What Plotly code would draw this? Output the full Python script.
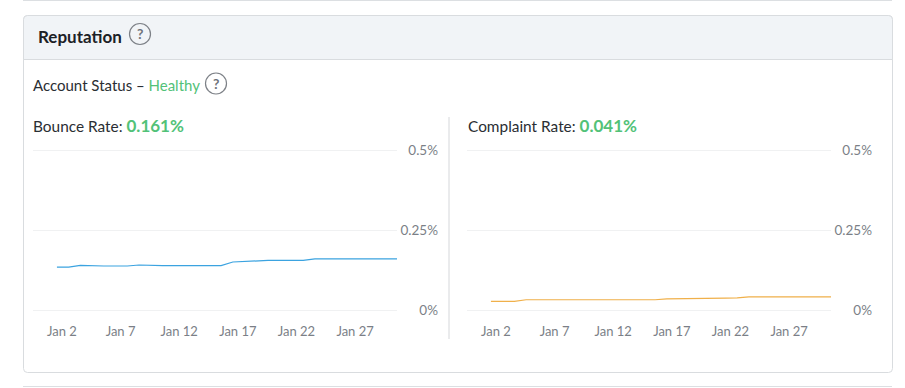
import plotly.graph_objects as go

W, H = 905, 388
days = [f"2023-01-{d:02d}" for d in range(2, 32)]
bounce = [.134, .134, .1396, .1375, .1375, .1375, .1375, .1406, .1385, .1385, .1385, .1385, .1385, .1385, .1385,
          .15, .152, .154, .155, .155, .155, .155, .160, .160, .160, .160, .159, .159, .159, .160]
complaint = [.027, .027, .027, .032, .032, .032, .032, .032, .032, .032, .032, .032, .032, .032, .032,
             .035, .035, .035, .035, .035, .037, .038, .041, .041, .041, .041, .041, .041, .041, .041]
tick_dates = ["2023-01-02", "2023-01-07", "2023-01-12", "2023-01-17", "2023-01-22", "2023-01-27"]
tick_labels = ["Jan 2", "Jan 7", "Jan 12", "Jan 17", "Jan 22", "Jan 27"]
y_ticks = [0, 0.25, 0.5]
y_labels = ["0%", "0.25%", "0.5%"]

FONT = "Lato"
GREEN = "#52c278"
DARK = "#2a2e33"
GREY = "#7b7f87"


def px(x):
    return x / W


def py(y):
    return 1 - y / H


fig = go.Figure()
fig.add_trace(go.Scatter(x=days, y=bounce, mode="lines", line=dict(color="#3ba3e0", width=1.2),
                         xaxis="x", yaxis="y", showlegend=False))
fig.add_trace(go.Scatter(x=days, y=complaint, mode="lines", line=dict(color="#f0b04a", width=1.2),
                         xaxis="x2", yaxis="y2", showlegend=False))

xcommon = dict(type="date", range=["2022-12-30 23:00", "2023-01-31 00:00"], tickmode="array",
               tickvals=tick_dates, ticktext=tick_labels, showgrid=False, zeroline=False, showline=False,
               ticks="outside", ticklen=7, tickcolor="rgba(0,0,0,0)", ticklabelshift=5, automargin=False,
               tickfont=dict(family=FONT, size=13, color=GREY))
ycommon = dict(range=[-0.00625, 0.50625], tickmode="array", tickvals=y_ticks, ticktext=y_labels, showgrid=True,
               gridcolor="#f0f1f2", gridwidth=1, zeroline=False, showline=False, ticks="",
               side="left", anchor="free", automargin=False, tickfont=dict(family=FONT, size=13.5, color=GREY))
ydom = [py(312), py(148)]

shapes = []
# page rules
shapes.append(dict(type="line", xref="paper", yref="paper", x0=px(23), x1=px(892), y0=py(0.5), y1=py(0.5),
                   line=dict(color="#dcdfe2", width=1)))
shapes.append(dict(type="line", xref="paper", yref="paper", x0=px(23), x1=px(892), y0=py(386.5), y1=py(386.5),
                   line=dict(color="#dcdfe2", width=1)))


# card
def rr(x0, y0, x1, y1, r, top_only=False):
    b = f"L{px(x1)},{py(y1)} L{px(x0)},{py(y1)} " if top_only else (
        f"L{px(x1)},{py(y1-r)} Q{px(x1)},{py(y1)} {px(x1-r)},{py(y1)} "
        f"L{px(x0+r)},{py(y1)} Q{px(x0)},{py(y1)} {px(x0)},{py(y1-r)} ")
    return (f"M{px(x0+r)},{py(y0)} L{px(x1-r)},{py(y0)} Q{px(x1)},{py(y0)} {px(x1)},{py(y0+r)} " + b +
            f"L{px(x0)},{py(y0+r)} Q{px(x0)},{py(y0)} {px(x0+r)},{py(y0)} Z")


shapes.append(dict(type="path", xref="paper", yref="paper", path=rr(23.5, 15.5, 892.5, 372.5, 4),
                   line=dict(color="#d9dcdf", width=1), fillcolor="white", layer="below"))
shapes.append(dict(type="path", xref="paper", yref="paper", path=rr(23.5, 15.5, 892.5, 59.5, 4, True),
                   line=dict(color="#d9dcdf", width=1), fillcolor="#f1f4f7", layer="below"))
# divider
shapes.append(dict(type="line", xref="paper", yref="paper", x0=px(449), x1=px(449), y0=py(117), y1=py(339),
                   line=dict(color="#d5d7da", width=1)))
# help icons
for cx, cy in [(140, 34), (216, 83.5)]:
    shapes.append(dict(type="circle", xref="paper", yref="paper", x0=px(cx - 10.5), x1=px(cx + 10.5),
                       y0=py(cy + 10.5), y1=py(cy - 10.5), line=dict(color="#7d8187", width=1.2)))

anns = []


def text(x, y, s, size, color=DARK, anchor="left"):
    anns.append(dict(xref="paper", yref="paper", x=px(x), y=py(y), text=s, showarrow=False, xanchor=anchor,
                     yanchor="middle", font=dict(family=FONT, size=size, color=color), borderpad=0,
                     borderwidth=0))


text(38, 36.5, "<b>Reputation</b>", 17, "#1c2126")
text(140, 33.5, "<b>?</b>", 14, "#6f737a", "center")
text(216, 83, "<b>?</b>", 14, "#6f737a", "center")
text(33, 85, f'Account Status – <span style="color:{GREEN}">Healthy</span>', 15)
text(33, 126, f'Bounce Rate: <b><span style="color:{GREEN};font-size:17px">0.161%</span></b>', 15.4)
text(467.5, 126, f'Complaint Rate: <b><span style="color:{GREEN};font-size:17px">0.041%</span></b>', 15.4)

fig.update_layout(
    width=W, height=H, autosize=False, margin=dict(l=0, r=0, t=0, b=0, pad=0, autoexpand=False),
    paper_bgcolor="white", plot_bgcolor="rgba(0,0,0,0)", showlegend=False,
    xaxis=dict(domain=[px(33), px(397)], anchor="y", **xcommon),
    xaxis2=dict(domain=[px(467), px(831)], anchor="y2", **xcommon),
    yaxis=dict(domain=ydom, position=px(438), **ycommon),
    yaxis2=dict(domain=ydom, position=px(872), **ycommon),
    shapes=shapes, annotations=anns,
)
fig.write_html("out.html", config={"displayModeBar": False}, default_width=W, default_height=H,
               post_script="document.body.style.margin='0';document.documentElement.style.overflow='hidden';")
